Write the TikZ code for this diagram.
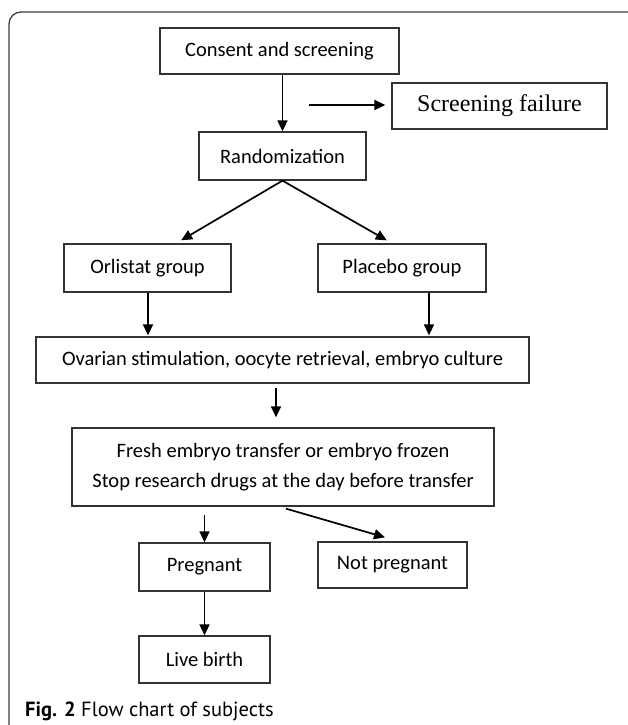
\documentclass[tikz,border=0pt]{standalone}
\usepackage{fontspec}
\setmainfont{Carlito}
\newfontfamily\timesf{Liberation Serif}
\newfontfamily\capf{PT Sans}
\usetikzlibrary{arrows.meta,calc}
\begin{document}
\begin{tikzpicture}[x=1pt,y=-1pt,
  box/.style={draw=black!80,line width=1.3pt,inner sep=0pt,align=center,
    font=\fontsize{20.5}{30}\selectfont,text=black},
  arr/.style={line width=1.7pt,-{Triangle[length=11pt,width=10pt]}}]
\useasboundingbox (0,0) rectangle (627,725);
\fill[white] (0,0) rectangle (627,725);
% frame
\draw[black!75,line width=1.3pt,rounded corners=12pt] (9,740) -- (9,12) -- (650,12);
% nodes
\node[box,minimum width=239pt,minimum height=46pt] (cons) at (279.5,51) {Consent and screening};
\node[box,minimum width=215pt,minimum height=46pt,font=\timesf\fontsize{24}{28}\selectfont] (scr) at (499.5,106) {Screening failure};
\node[box,minimum width=167pt,minimum height=48pt] (rand) at (282.5,156) {Randomization};
\node[box,minimum width=167pt,minimum height=48pt] (orl) at (147.5,268) {Orlistat group};
\node[box,minimum width=168pt,minimum height=48pt] (plac) at (402,268) {Placebo group};
\node[box,minimum width=493pt,minimum height=46pt] (ova) at (282.5,360) {Ovarian stimulation, oocyte retrieval, embryo culture};
\node[box,minimum width=422pt,minimum height=78pt] (fresh) at (283,467) {Fresh embryo transfer or embryo frozen\\Stop research drugs at the day before transfer};
\node[box,minimum width=131pt,minimum height=48pt] (preg) at (204.5,567) {Pregnant};
\node[box,minimum width=149pt,minimum height=46pt] (npreg) at (392.5,565) {Not pregnant};
\node[box,minimum width=131pt,minimum height=47pt] (live) at (204.5,659.5) {Live birth};
\node[anchor=base west,inner sep=0pt,font=\capf\fontsize{20.5}{24}\selectfont] (cap) at (25,716) {\textbf{Fig. 2} Flow chart of subjects};
% connectors
\coordinate (hs) at (309,105);
\draw[arr] (cons.south -| rand.north) -- (rand.north);
\draw[arr,shorten >=6pt] (hs) -- (hs -| scr.west);
\draw[arr,shorten >=6pt] (rand.south) -- ($(orl.north)+(28.5,0)$);
\draw[arr,shorten >=6pt] (rand.south) -- ($(plac.north)+(-10,0)$);
\draw[arr,shorten >=1pt] ($(orl.south)+(0.5,0)$) -- ($(orl.south |- ova.north)+(0.5,0)$);
\draw[arr,shorten >=1pt] ($(plac.south)+(27,0)$) -- ($(plac.south |- ova.north)+(27,0)$);
\draw[arr,shorten <=4pt,shorten >=10pt] ($(ova.south)+(-6.5,0)$) -- ($(fresh.north)+(-7,0)$);
\draw[arr,shorten <=8pt] (fresh.south -| preg.north) -- (preg.north);
\draw[arr] ($(fresh.south)+(3,2)$) -- ($(npreg.north)+(-7.5,-4)$);
\draw[arr] (preg.south) -- (live.north);
\end{tikzpicture}
\end{document}
